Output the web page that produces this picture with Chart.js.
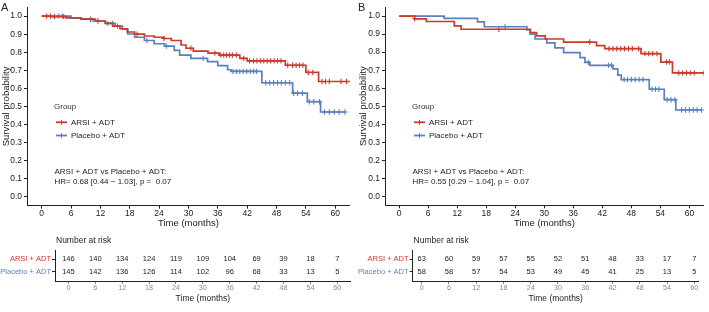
<!DOCTYPE html>
<html>
<head>
<meta charset="utf-8">
<script src="https://cdn.jsdelivr.net/npm/chart.js@4.4.1/dist/chart.umd.min.js"></script>
<style>
  body { margin: 0; background: #fff; }
  #wrap { position: relative; width: 709px; height: 312px; overflow: hidden; }
  canvas { position: absolute; }
</style>
</head>
<body>
<div id="wrap">
  <canvas id="kmA" width="355" height="230" style="left:0;top:0"></canvas>
  <canvas id="riskA" width="355" height="80" style="left:0;top:232px"></canvas>
  <canvas id="kmB" width="352" height="230" style="left:357px;top:0"></canvas>
  <canvas id="riskB" width="352" height="80" style="left:357px;top:232px"></canvas>
</div>
<script>
// ---- data ----
const groups = ['ARSI + ADT', 'Placebo + ADT'];
const months = [0, 6, 12, 18, 24, 30, 36, 42, 48, 54, 60];
const survTicks = [0, 0.1, 0.2, 0.3, 0.4, 0.5, 0.6, 0.7, 0.8, 0.9, 1.0];

// panel A
const arsiA_time = [0, 2, 5, 8, 11, 13, 14.5, 16, 17.5, 19, 21, 23, 25, 26.5, 28.5, 29.5, 31, 34, 36.3, 40.5, 42, 49.8, 54, 56.6, 63];
const arsiA_surv = [1.0, 0.997, 0.99, 0.983, 0.973, 0.96, 0.945, 0.93, 0.912, 0.9, 0.89, 0.883, 0.876, 0.865, 0.84, 0.822, 0.806, 0.795, 0.784, 0.766, 0.752, 0.728, 0.688, 0.638, 0.638];
const arsiA_cens = [1, 1.8, 2.6, 4.5, 10, 11.5, 19.5, 25, 30.5, 35.4, 36.6, 37.2, 37.8, 38.4, 39, 39.8, 41.3, 42.5, 43.3, 44, 44.7, 45.4, 46.1, 46.8, 47.5, 48.2, 48.9, 50.3, 51.3, 52, 52.7, 53.4, 54.5, 55.4, 57.3, 58, 58.8, 61.2, 62.3];
const placeboA_time = [0, 6, 8, 10.5, 13, 15, 16.5, 17.6, 19, 21, 23, 25.1, 27.1, 28.2, 30.5, 33.9, 36, 38, 38.7, 45, 51.3, 54.3, 57, 62];
const placeboA_surv = [1.0, 0.99, 0.985, 0.973, 0.96, 0.945, 0.928, 0.901, 0.883, 0.865, 0.847, 0.834, 0.81, 0.784, 0.766, 0.748, 0.726, 0.703, 0.694, 0.631, 0.573, 0.526, 0.469, 0.469];
const placeboA_cens = [3.5, 4.2, 13.5, 14.5, 15.5, 21.5, 25.5, 33, 39.1, 39.8, 40.5, 41.2, 41.9, 42.6, 43.3, 43.9, 45.8, 46.6, 47.4, 48.2, 49, 49.8, 50.7, 51.5, 52.3, 53.3, 54.7, 55.6, 56.8, 57.8, 58.8, 59.8, 60.8, 62];
const riskArsiA = [146, 140, 134, 124, 119, 109, 104, 69, 39, 18, 7];
const riskPlaceboA = [145, 142, 136, 126, 114, 102, 96, 68, 33, 13, 5];

// panel B
const arsiB_time = [0, 3.2, 5.6, 11.4, 12.8, 27.1, 28.4, 30.2, 34, 40.8, 42.5, 50, 54.1, 56.5, 63];
const arsiB_surv = [1.0, 0.985, 0.97, 0.946, 0.927, 0.908, 0.89, 0.873, 0.856, 0.836, 0.819, 0.792, 0.745, 0.685, 0.685];
const arsiB_cens = [3.2, 20.6, 39.4, 43.4, 44.2, 45, 45.8, 46.6, 47.4, 48.2, 49.5, 50.8, 51.6, 52.4, 53.3, 55.3, 55.9, 57.8, 58.6, 59.4, 60.2, 61, 63];
const placeboB_time = [0, 9.3, 16.2, 17.6, 26.4, 27.1, 28.1, 30.5, 32.2, 34, 37.4, 38.4, 39.4, 44.2, 45.2, 45.9, 51.7, 54.8, 57.2, 62.6];
const placeboB_surv = [1.0, 0.987, 0.968, 0.941, 0.923, 0.9, 0.873, 0.851, 0.824, 0.797, 0.77, 0.743, 0.727, 0.707, 0.672, 0.648, 0.594, 0.536, 0.479, 0.479];
const placeboB_cens = [21.9, 39.1, 43.3, 43.9, 46.5, 47.2, 48, 48.8, 49.6, 50.4, 52.3, 53, 53.7, 55.4, 56.2, 57, 58.4, 59.2, 60, 60.8, 61.6, 62.5];
const riskArsiB = [63, 60, 59, 57, 55, 52, 51, 48, 33, 17, 7];
const riskPlaceboB = [58, 58, 57, 54, 53, 49, 45, 41, 25, 13, 5];

// ---- styling ----
const FONT = "'Liberation Sans', Arial, sans-serif";
const RED = '#CC3A2A';
const BLUE = '#5B80BF';
const INK = '#222';

function survAt(times, surv, t) {
  let v = surv[0];
  for (let i = 0; i < times.length; i++) if (times[i] <= t) v = surv[i];
  return v;
}
const toPoints = (t, s) => t.map((v, i) => ({ x: v, y: s[i] }));
const censPoints = (c, t, s) => c.map(v => ({ x: v, y: survAt(t, s, v) }));

// letter, legend and HR text drawn over the KM panel
function kmText(o) {
  return {
    id: 'kmText',
    afterDraw(chart) {
      const ctx = chart.ctx;
      const L = chart.chartArea.left;
      ctx.save();
      ctx.textBaseline = 'middle';
      ctx.fillStyle = INK;
      ctx.font = '11px ' + FONT;
      ctx.fillText(o.letter, 1, 8);

      ctx.font = '8px ' + FONT;
      ctx.fillStyle = '#333';
      ctx.fillText('Group', L + 27, 107);
      [[RED, groups[0], 122.3], [BLUE, groups[1], 135.5]].forEach(([c, txt, y]) => {
        ctx.strokeStyle = c;
        ctx.lineWidth = 1.8;
        ctx.beginPath(); ctx.moveTo(L + 29, y); ctx.lineTo(L + 40, y); ctx.stroke();
        ctx.lineWidth = 1;
        ctx.beginPath(); ctx.moveTo(L + 34.5, y - 2.5); ctx.lineTo(L + 34.5, y + 2.5); ctx.stroke();
        ctx.fillStyle = INK;
        ctx.fillText(txt, L + 44, y);
      });
      ctx.fillText('ARSI + ADT vs Placebo + ADT:', L + 27.5, 172.2);
      ctx.fillText(o.hr, L + 27.5, 182);
      ctx.restore();
    }
  };
}

function kmChart(id, o) {
  new Chart(document.getElementById(id), {
    type: 'scatter',
    data: {
      datasets: [
        { data: toPoints(o.t1, o.s1), showLine: true, stepped: true, borderColor: RED, borderWidth: 1.7, pointRadius: 0 },
        { data: toPoints(o.t2, o.s2), showLine: true, stepped: true, borderColor: BLUE, borderWidth: 1.7, pointRadius: 0 },
        { data: censPoints(o.c1, o.t1, o.s1), pointStyle: 'cross', pointRadius: 2.7, borderColor: RED, borderWidth: 1.1 },
        { data: censPoints(o.c2, o.t2, o.s2), pointStyle: 'cross', pointRadius: 2.7, borderColor: BLUE, borderWidth: 1.1 }
      ]
    },
    options: {
      responsive: false,
      animation: false,
      devicePixelRatio: 1,
      layout: { padding: { top: o.padTop, right: o.padRight, left: 0, bottom: 0 } },
      plugins: { legend: { display: false }, tooltip: { enabled: false } },
      scales: {
        x: {
          type: 'linear', min: o.xmin, max: o.xmax,
          afterBuildTicks: s => { s.ticks = months.map(v => ({ value: v })); },
          afterFit: s => { s.height = o.xh; },
          grid: { drawOnChartArea: false, tickLength: 3, color: INK },
          border: { color: INK, width: 1 },
          ticks: { font: { family: FONT, size: 8.5 }, color: INK, padding: 0, maxRotation: 0, autoSkip: false },
          title: { display: true, text: 'Time (months)', font: { family: FONT, size: 9.5 }, color: INK, padding: { top: 0, bottom: 1 } }
        },
        y: {
          min: -0.05, max: 1.05,
          afterBuildTicks: s => { s.ticks = survTicks.map(v => ({ value: v })); },
          afterFit: s => { s.width = o.yw; },
          grid: { drawOnChartArea: false, tickLength: 3, color: INK },
          border: { color: INK, width: 1 },
          ticks: { font: { family: FONT, size: 8.5 }, color: INK, padding: 2, callback: v => v.toFixed(1) },
          title: { display: true, text: 'Survival probability', font: { family: FONT, size: 9.5 }, color: INK, padding: { top: 1, bottom: 0 } }
        }
      }
    },
    plugins: [kmText(o)]
  });
}

// numbers at risk
function riskText(o) {
  return {
    id: 'riskText',
    afterDraw(chart) {
      const ctx = chart.ctx;
      const xs = chart.scales.x, ys = chart.scales.y;
      ctx.save();
      ctx.textBaseline = 'middle';
      ctx.fillStyle = INK;
      ctx.font = '8.5px ' + FONT;
      ctx.fillText('Number at risk', chart.chartArea.left + 1, 8.7);
      ctx.font = '7.5px ' + FONT;
      ctx.textAlign = 'center';
      [o.r1, o.r2].forEach((row, k) => {
        row.forEach((n, i) => ctx.fillText(String(n), xs.getPixelForValue(months[i]), ys.getPixelForValue(k + 1)));
      });
      ctx.restore();
    }
  };
}

function riskChart(id, o) {
  new Chart(document.getElementById(id), {
    type: 'scatter',
    data: { datasets: [{ data: [], pointRadius: 0 }] },
    options: {
      responsive: false,
      animation: false,
      devicePixelRatio: 1,
      layout: { padding: { top: 18, right: o.padRight, left: 0, bottom: 0 } },
      plugins: { legend: { display: false }, tooltip: { enabled: false } },
      scales: {
        x: {
          type: 'linear', min: o.xmin, max: o.xmax,
          afterBuildTicks: s => { s.ticks = months.map(v => ({ value: v })); },
          afterFit: s => { s.height = 31; },
          grid: { drawOnChartArea: false, tickLength: 3, color: '#888' },
          border: { color: INK, width: 1 },
          ticks: { font: { family: FONT, size: 7.2 }, color: '#8a8a8a', padding: 0, maxRotation: 0, autoSkip: false },
          title: { display: true, text: 'Time (months)', font: { family: FONT, size: 8.5 }, color: INK, padding: { top: 0, bottom: 8 } }
        },
        y: {
          reverse: true, min: 0.25, max: 2.75,
          afterBuildTicks: s => { s.ticks = [{ value: 1 }, { value: 2 }]; },
          afterFit: s => { s.width = o.yw; },
          grid: { drawOnChartArea: false, tickLength: 3, color: INK },
          border: { color: INK, width: 1 },
          ticks: {
            font: { family: FONT, size: 7.5 }, padding: 1,
            color: c => (c.index === 0 ? RED : BLUE),
            callback: v => groups[v - 1]
          }
        }
      }
    },
    plugins: [riskText(o)]
  });
}

kmChart('kmA', {
  letter: 'A', hr: 'HR= 0.68 [0.44 \u2212 1.03], p =  0.07',
  t1: arsiA_time, s1: arsiA_surv, c1: arsiA_cens,
  t2: placeboA_time, s2: placeboA_surv, c2: placeboA_cens,
  xmin: -3, xmax: 63, yw: 27, xh: 24.3, padTop: 2.4, padRight: 4.6
});
kmChart('kmB', {
  letter: 'B', hr: 'HR= 0.55 [0.29 \u2212 1.04], p =  0.07',
  t1: arsiB_time, s1: arsiB_surv, c1: arsiB_cens,
  t2: placeboB_time, s2: placeboB_surv, c2: placeboB_cens,
  xmin: -2.93, xmax: 63, yw: 28, xh: 24.7, padTop: 1.4, padRight: 2.3
});
riskChart('riskA', { r1: riskArsiA, r2: riskPlaceboA, xmin: -3, xmax: 63, yw: 55, padRight: 4.3 });
riskChart('riskB', { r1: riskArsiB, r2: riskPlaceboB, xmin: -2, xmax: 61, yw: 55.6, padRight: 10.2 });
</script>
</body>
</html>
